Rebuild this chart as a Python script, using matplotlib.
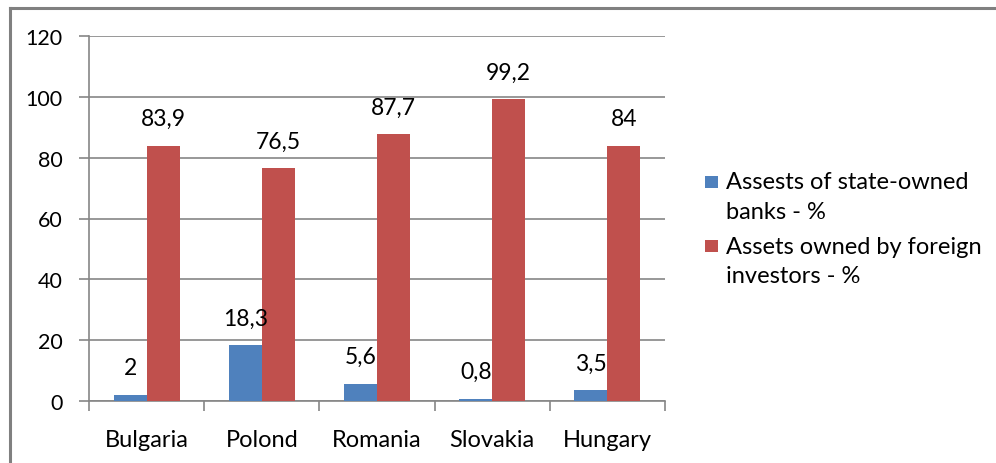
import matplotlib
matplotlib.use("Agg")
import matplotlib.pyplot as plt
import numpy as np
from matplotlib.patches import Rectangle
from matplotlib.lines import Line2D

categories = ["Bulgaria", "Polond", "Romania", "Slovakia", "Hungary"]
state_owned = [2, 18.3, 5.6, 0.8, 3.5]
foreign = [83.9, 76.5, 87.7, 99.2, 84]
state_labels = ["2", "18,3", "5,6", "0,8", "3,5"]
foreign_labels = ["83,9", "76,5", "87,7", "99,2", "84"]
series_names = ["Assests of state-owned\nbanks - %", "Assets owned by foreign\ninvestors - %"]
yticks = [0, 20, 40, 60, 80, 100, 120]

plt.rcParams['font.family'] = ['Lato', 'DejaVu Sans']

W, H = 996, 464
fig = plt.figure(figsize=(W / 100, H / 100), dpi=100)
ax = fig.add_axes([89 / W, 1 - 402 / H, 576 / W, 365 / H])

x = np.arange(len(categories))
w = 0.286
blue = "#4F81BD"
red = "#C0504D"
grid = "#868686"
colors = [blue, red]

b1 = ax.bar(x - w/2, state_owned, w, color=blue, zorder=3)
b2 = ax.bar(x + w/2, foreign, w, color=red, zorder=3)

for bars, labs in ((b1, state_labels), (b2, foreign_labels)):
    for rect, lab in zip(bars, labs):
        ax.annotate(lab, (rect.get_x() + rect.get_width()/2, rect.get_height()),
                    xytext=(0, 12), textcoords="offset points", ha="center", va="bottom",
                    fontsize=16.5, color="black")

ax.set_xlim(-0.5, len(categories) - 0.5)
ax.set_ylim(0, 120)
ax.set_yticks(yticks)
ax.set_yticklabels([str(v) for v in yticks], fontsize=15.5)
ax.yaxis.grid(True, color=grid, linewidth=1.2, zorder=0)
ax.set_axisbelow(True)

ax.set_xticks(x)
ax.set_xticklabels(categories, fontsize=17)
ax.set_xticks(np.arange(len(categories) + 1) - 0.5, minor=True)
ax.tick_params(axis='x', which='major', length=0, pad=20)
ax.tick_params(axis='x', which='minor', length=7, width=1.2, color=grid, direction='out')
ax.tick_params(axis='y', length=7, width=1.2, color=grid, direction='out', pad=12)

for s in ['top', 'right']:
    ax.spines[s].set_visible(False)
for s in ['left', 'bottom']:
    ax.spines[s].set_color(grid)
    ax.spines[s].set_linewidth(1.2)

# manual legend (square aligned with first text line, as in the reference)
first_line_y = [183, 247]
line_gap = 30
for i, name in enumerate(series_names):
    y0 = first_line_y[i]
    fig.add_artist(Rectangle((705 / W, 1 - (y0 + 6) / H), 13 / W, 12 / H,
                             transform=fig.transFigure, facecolor=colors[i],
                             edgecolor='none'))
    for j, line in enumerate(name.split("\n")):
        fig.text(726 / W, 1 - (y0 + j * line_gap) / H, line, fontsize=17,
                 ha='left', va='center', color='black')

# figure border (top and left)
fig.add_artist(Line2D([10 / W, 1.0], [1 - 9 / H, 1 - 9 / H], transform=fig.transFigure,
                      color="#808080", linewidth=2.2))
fig.add_artist(Line2D([10 / W, 10 / W], [0, 1 - 9 / H], transform=fig.transFigure,
                      color="#808080", linewidth=2.2))

fig.savefig("out.png", dpi=100, facecolor="white")
